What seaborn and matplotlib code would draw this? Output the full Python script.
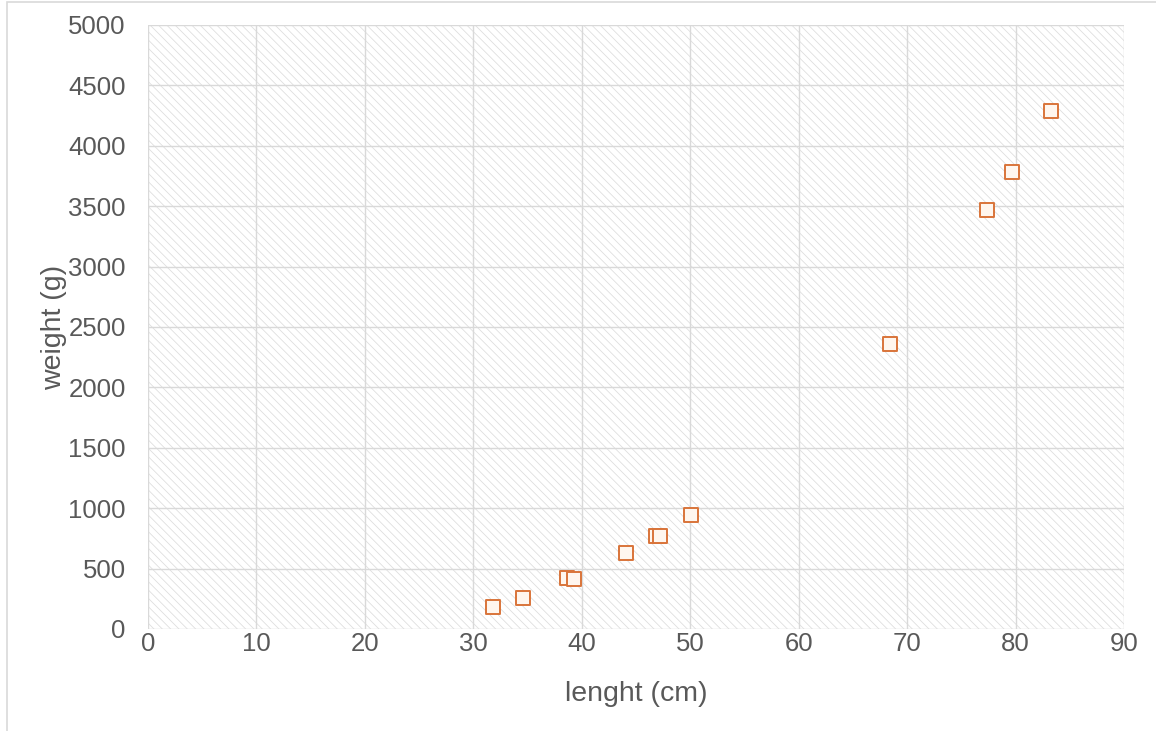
import matplotlib
matplotlib.use("Agg")
import matplotlib.pyplot as plt
import seaborn as sns
import pandas as pd
from matplotlib.patches import Rectangle

# Data
length_cm = [31.8, 34.6, 38.6, 39.3, 44.1, 46.8, 47.2, 50.1, 68.4, 77.4, 79.7, 83.3]
weight_g = [185, 255, 425, 412, 630, 770, 770, 945, 2360, 3470, 3785, 4285]
x_ticks = [0, 10, 20, 30, 40, 50, 60, 70, 80, 90]
y_ticks = [0, 500, 1000, 1500, 2000, 2500, 3000, 3500, 4000, 4500, 5000]
x_label = "lenght (cm)"
y_label = "weight (g)"

df = pd.DataFrame({"length": length_cm, "weight": weight_g})

sns.set_theme(style="whitegrid")
plt.rcParams["font.family"] = ["Liberation Sans", "DejaVu Sans"]
plt.rcParams["hatch.linewidth"] = 0.55

W, H = 1156, 731
fig = plt.figure(figsize=(W / 100, H / 100), dpi=100)
fig.patch.set_facecolor("white")
left, right, top, bottom = 148, 1124, 25, 629
ax = fig.add_axes([left / W, 1 - bottom / H, (right - left) / W, (bottom - top) / H])

# hatched plot area
ax.patch.set_facecolor("white")
ax.patch.set_edgecolor("#dcdcdc")
ax.patch.set_linewidth(0)
ax.patch.set_hatch("\\\\\\\\")

sns.scatterplot(data=df, x="length", y="weight", ax=ax, marker="s", s=95,
                facecolor="#fff6ee", edgecolor="#d9743a", linewidth=1.4, zorder=3)

ax.set_xlim(0, 90)
ax.set_ylim(0, 5000)
ax.set_xticks(x_ticks)
ax.set_yticks(y_ticks)
ax.grid(True, color="#d9d9d9", linewidth=1.0)
for s in ax.spines.values():
    s.set_visible(False)

tick_color = "#595959"
ax.tick_params(axis="both", colors=tick_color, labelsize=18.5, length=0)
ax.tick_params(axis="y", pad=16)
ax.tick_params(axis="x", pad=2)
ax.set_xlabel(x_label, fontsize=20.5, color=tick_color, labelpad=18)
ax.set_ylabel(y_label, fontsize=20.5, color=tick_color, labelpad=1)

# figure frame (light gray)
fig.patches.append(Rectangle((7 / W, -0.05), 1.1, 1 - 2 / H + 0.05,
                             transform=fig.transFigure, fill=False,
                             edgecolor="#d9d9d9", linewidth=1.2))

fig.savefig("out.png", dpi=100)
